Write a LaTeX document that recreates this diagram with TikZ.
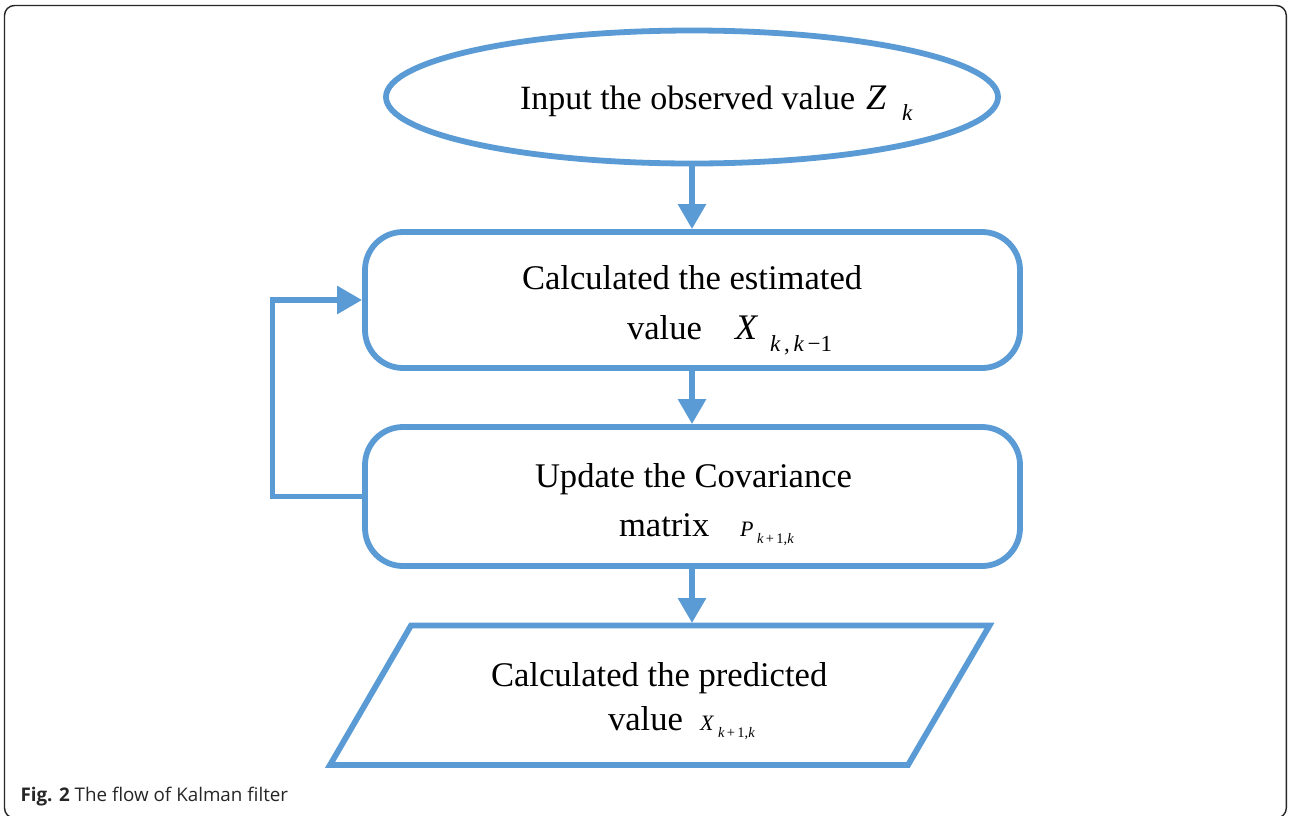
\documentclass[tikz,border=0pt]{standalone}
\usepackage{fontspec}
\setmainfont{Liberation Serif}
\newfontfamily\capfont{Open Sans}
\usetikzlibrary{arrows.meta,shapes.geometric}
\definecolor{flowblue}{HTML}{5B9BD5}
\definecolor{frameink}{HTML}{262626}
\newcommand{\bigtext}{\fontsize{34.6}{40}\selectfont}
\newcommand{\symtext}{\fontsize{36}{40}\selectfont}
\newcommand{\subtext}{\fontsize{23}{26}\selectfont}
\newcommand{\smallsym}{\fontsize{22}{24}\selectfont}
\newcommand{\tinysub}{\fontsize{14.5}{16}\selectfont}
\begin{document}
\begin{tikzpicture}[x=1pt,y=-1pt,
  flowline/.style={draw=flowblue,line width=5.8pt},
  flowarrow/.style={flowblue,line width=5.8pt,-{Triangle[width=27pt,length=25pt]}},
  boxshape/.style={flowline,rectangle,rounded corners=38pt,minimum width=655pt,inner sep=0pt},
  label/.style={anchor=base west,inner sep=0pt,outer sep=0pt,text=black}]
\useasboundingbox (0,0) rectangle (1290,815);
\fill[white] (0,0) rectangle (1290,815);
% page frame
\draw[frameink,line width=1.4pt,rounded corners=10pt] (4.5,5.5) rectangle (1286.3,818);

% shapes
\node[flowline,ellipse,minimum width=612pt,minimum height=133pt,inner sep=0pt] (input) at (692,97) {};
\node[boxshape,minimum height=136pt] (estimate) at (692.5,300) {};
\node[boxshape,minimum height=139pt] (update) at (692.5,496.5) {};
\coordinate (ptl) at (411,625.5);
\coordinate (ptr) at (989.5,625.5);
\coordinate (pbr) at (908,765);
\coordinate (pbl) at (330,765);
\coordinate (predict) at (692,623);
\draw[flowline,line join=miter] (ptl) -- (ptr) -- (pbr) -- (pbl) -- cycle;

% connectors
\draw[flowarrow] (input.south -| predict) -- (estimate.north -| predict);
\draw[flowarrow] (estimate.south -| predict) -- (update.north -| predict);
\draw[flowarrow] (update.south -| predict) -- (predict);
\coordinate (loop) at (272.5,0);
\draw[flowarrow,line join=miter] (update.west) -- (update.west -| loop) |- (estimate.west);

% texts
\node[label] (t1) at (520,109) {\fontsize{34}{40}\selectfont Input the observed value};
\node[label] (t1z) at (866,109) {\symtext\itshape Z};
\node[label] (t1k) at (902,120) {\subtext\itshape k};

\node[label] (t2a) at (522,289) {\bigtext Calculated the estimated};
\node[label] (t2b) at (627,339) {\bigtext value};
\node[label] (t2x) at (735,339) {\symtext\itshape X};
\node[label] (t2s) at (770,351) {\subtext\itshape k\,\upshape,\,\itshape k\upshape\,−1};

\node[label] (t3a) at (535,487) {\bigtext Update the Covariance};
\node[label] (t3b) at (619,536) {\bigtext matrix};
\node[label] (t3p) at (740,536) {\smallsym\itshape P};
\node[label] (t3s) at (757,543) {\tinysub\itshape k\upshape\,+\,1,\itshape k};

\node[label] (t4a) at (491,686) {\bigtext Calculated the predicted};
\node[label] (t4b) at (608,730) {\bigtext value};
\node[label] (t4x) at (700,730) {\smallsym\itshape X};
\node[label] (t4s) at (718,737) {\tinysub\itshape k\upshape\,+\,1,\itshape k};

% caption
\node[label,text=frameink] (cap) at (20.5,801.5) {\capfont\fontsize{18.8}{22}\selectfont\textbf{Fig. 2} The flow of Kalman filter};
\end{tikzpicture}
\end{document}
